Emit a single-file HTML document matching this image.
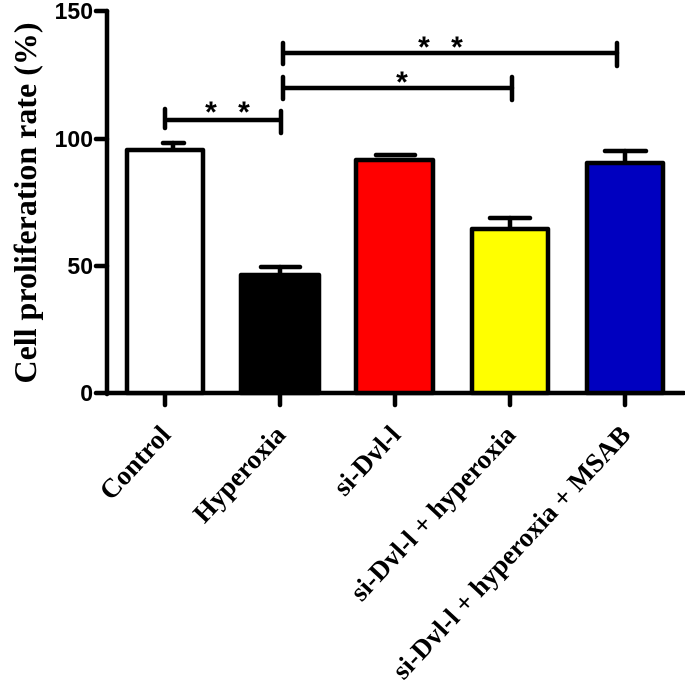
<!DOCTYPE html>
<html><head><style>body{margin:0;background:#fff}</style></head><body>
<svg width="685" height="693" xmlns="http://www.w3.org/2000/svg">
<g stroke="#000" stroke-width="4.5" stroke-linecap="round" fill="none">
<line x1="107" y1="11" x2="107" y2="394"/>
<line x1="96" y1="11" x2="107" y2="11"/><line x1="96" y1="139" x2="107" y2="139"/>
<line x1="96" y1="266" x2="107" y2="266"/><line x1="96" y1="393" x2="107" y2="393"/>
<line x1="107" y1="393" x2="684" y2="393"/>
<line x1="165" y1="393" x2="165" y2="405"/><line x1="280" y1="393" x2="280" y2="405"/>
<line x1="395" y1="393" x2="395" y2="405"/><line x1="510" y1="393" x2="510" y2="405"/>
<line x1="625" y1="393" x2="625" y2="405"/>
<line x1="173" y1="143" x2="173" y2="150"/><line x1="163" y1="143" x2="184" y2="143"/>
<line x1="280" y1="267" x2="280" y2="275"/><line x1="261" y1="267" x2="300" y2="267"/>
<line x1="376" y1="155" x2="415" y2="155"/>
<line x1="510" y1="218" x2="510" y2="229"/><line x1="490" y1="218" x2="530" y2="218"/>
<line x1="625" y1="151" x2="625" y2="163"/><line x1="605" y1="151" x2="646" y2="151"/>
<line x1="168" y1="120" x2="280" y2="120"/>
<line x1="165" y1="109" x2="165" y2="128"/><line x1="281" y1="111" x2="281" y2="133"/>
<line x1="283" y1="43" x2="283" y2="64"/><line x1="283" y1="77" x2="283" y2="99"/>
<line x1="285" y1="53" x2="617" y2="53"/><line x1="617" y1="43" x2="617" y2="66"/>
<line x1="285" y1="88" x2="512" y2="88"/><line x1="512" y1="77" x2="512" y2="100"/>
</g>
<g stroke="#000" stroke-width="4.5" stroke-linejoin="round">
<rect x="127" y="150" width="76" height="243" fill="#fff"/>
<rect x="241" y="275" width="78" height="118" fill="#000"/>
<rect x="356" y="160" width="77" height="233" fill="#ff0000"/>
<rect x="472" y="229" width="76" height="164" fill="#ffff00"/>
<rect x="587" y="163" width="76" height="230" fill="#0000c0"/>
</g>
<g font-family="Liberation Sans, sans-serif" font-weight="bold" font-size="23" text-anchor="end">
<text x="93" y="19">150</text><text x="93" y="147">100</text>
<text x="93" y="274">50</text><text x="93" y="401">0</text>
</g>
<g font-family="Liberation Sans, sans-serif" font-weight="bold" font-size="30" text-anchor="middle">
<text x="211" y="122">*</text><text x="244" y="122">*</text>
<text x="424" y="57">*</text><text x="457" y="57">*</text>
<text x="402" y="92">*</text>
</g>
<text transform="translate(36,203) rotate(-90)" font-family="Liberation Serif, serif" font-weight="bold" font-size="32" text-anchor="middle">Cell proliferation rate (%)</text>
<g font-family="Liberation Serif, serif" font-weight="bold" font-size="27" text-anchor="end">
<text transform="translate(172,436) rotate(-47)">Control</text>
<text transform="translate(287,436) rotate(-47)">Hyperoxia</text>
<text transform="translate(402,436) rotate(-47)">si-Dvl-l</text>
<text transform="translate(517,436) rotate(-47)">si-Dvl-l + hyperoxia</text>
<text transform="translate(632,436) rotate(-47)">si-Dvl-l + hyperoxia + MSAB</text>
</g>
</svg>
</body></html>
